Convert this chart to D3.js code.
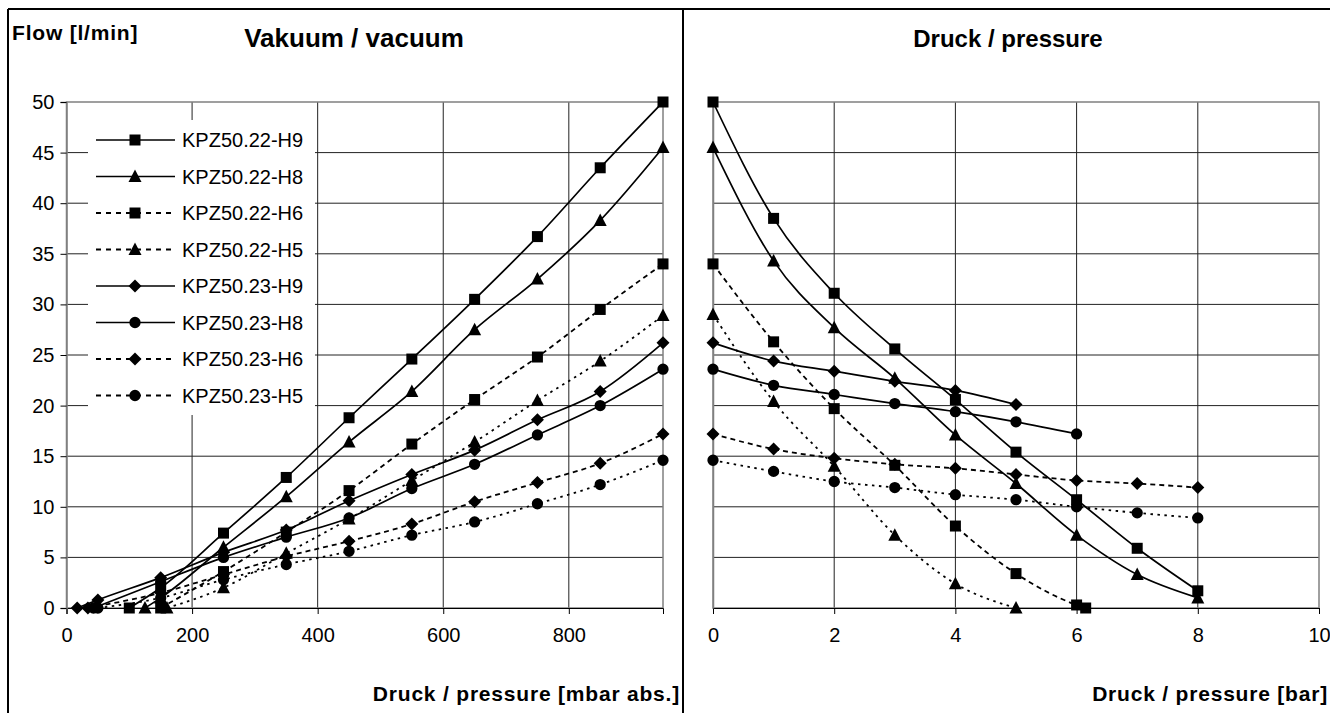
<!DOCTYPE html>
<html>
<head>
<meta charset="utf-8">
<script src="https://cdn.jsdelivr.net/npm/d3@7"></script>
<style>
  body { margin: 0; background: #fff; }
  svg text { font-family: "Liberation Sans", Arial, sans-serif; fill: #000; }
</style>
</head>
<body>
<div id="vis"></div>
<script>
// series names + styling keys
const seriesNames = ["KPZ50.22-H9", "KPZ50.22-H8", "KPZ50.22-H6", "KPZ50.22-H5",
                     "KPZ50.23-H9", "KPZ50.23-H8", "KPZ50.23-H6", "KPZ50.23-H5"];
const seriesMarker = ["square", "triangle", "square", "triangle", "diamond", "circle", "diamond", "circle"];
const seriesDash = ["solid", "solid", "dash", "dot", "solid", "solid", "dash", "dot"];

// vacuum side (mbar abs.)
const vacX_22H9 = [100, 150, 250, 350, 450, 550, 650, 750, 850, 950];
const vacY_22H9 = [0, 2.0, 7.4, 12.9, 18.8, 24.6, 30.5, 36.7, 43.5, 50];
const vacX_22H8 = [125, 150, 250, 350, 450, 550, 650, 750, 850, 950];
const vacY_22H8 = [0, 1.0, 6.0, 11.0, 16.4, 21.4, 27.5, 32.5, 38.3, 45.5];
const vacX_22H6 = [150, 250, 350, 450, 550, 650, 750, 850, 950];
const vacY_22H6 = [0, 3.6, 7.5, 11.6, 16.2, 20.6, 24.8, 29.5, 34.0];
const vacX_22H5 = [160, 250, 350, 450, 550, 650, 750, 850, 950];
const vacY_22H5 = [0, 2.0, 5.4, 8.8, 12.6, 16.4, 20.5, 24.4, 28.9];
const vacX_23H9 = [17, 50, 150, 250, 350, 450, 550, 650, 750, 850, 950];
const vacY_23H9 = [0, 0.8, 3.0, 5.5, 7.7, 10.6, 13.2, 15.6, 18.6, 21.4, 26.2];
const vacX_23H8 = [43, 150, 250, 350, 450, 550, 650, 750, 850, 950];
const vacY_23H8 = [0, 2.6, 5.0, 7.0, 8.9, 11.8, 14.2, 17.1, 20.0, 23.6];
const vacX_23H6 = [34, 150, 250, 350, 450, 550, 650, 750, 850, 950];
const vacY_23H6 = [0, 1.5, 3.3, 5.1, 6.6, 8.3, 10.5, 12.4, 14.3, 17.2];
const vacX_23H5 = [50, 150, 250, 350, 450, 550, 650, 750, 850, 950];
const vacY_23H5 = [0, 1.0, 2.8, 4.3, 5.6, 7.2, 8.5, 10.3, 12.2, 14.6];

// pressure side (bar)
const presX_22H9 = [0, 1, 2, 3, 4, 5, 6, 7, 8];
const presY_22H9 = [50, 38.5, 31.1, 25.6, 20.6, 15.4, 10.7, 5.9, 1.7];
const presX_22H8 = [0, 1, 2, 3, 4, 5, 6, 7, 8];
const presY_22H8 = [45.5, 34.3, 27.7, 22.7, 17.1, 12.3, 7.2, 3.3, 1.0];
const presX_22H6 = [0, 1, 2, 3, 4, 5, 6, 6.15];
const presY_22H6 = [34.0, 26.3, 19.7, 14.1, 8.1, 3.4, 0.3, 0];
const presX_22H5 = [0, 1, 2, 3, 4, 5];
const presY_22H5 = [29.0, 20.4, 14.0, 7.2, 2.4, 0];
const presX_23H9 = [0, 1, 2, 3, 4, 5];
const presY_23H9 = [26.2, 24.4, 23.4, 22.4, 21.5, 20.1];
const presX_23H8 = [0, 1, 2, 3, 4, 5, 6];
const presY_23H8 = [23.6, 22.0, 21.1, 20.2, 19.4, 18.4, 17.2];
const presX_23H6 = [0, 1, 2, 3, 4, 5, 6, 7, 8];
const presY_23H6 = [17.2, 15.7, 14.8, 14.2, 13.8, 13.2, 12.6, 12.3, 11.9];
const presX_23H5 = [0, 1, 2, 3, 4, 5, 6, 7, 8];
const presY_23H5 = [14.6, 13.5, 12.5, 11.9, 11.2, 10.7, 10.0, 9.4, 8.9];

const flowTicks = [0, 5, 10, 15, 20, 25, 30, 35, 40, 45, 50];
const vacTicks = [0, 200, 400, 600, 800];
const presTicks = [0, 2, 4, 6, 8, 10];

const vacSeries = [[vacX_22H9, vacY_22H9], [vacX_22H8, vacY_22H8], [vacX_22H6, vacY_22H6], [vacX_22H5, vacY_22H5],
                   [vacX_23H9, vacY_23H9], [vacX_23H8, vacY_23H8], [vacX_23H6, vacY_23H6], [vacX_23H5, vacY_23H5]];
const presSeries = [[presX_22H9, presY_22H9], [presX_22H8, presY_22H8], [presX_22H6, presY_22H6], [presX_22H5, presY_22H5],
                    [presX_23H9, presY_23H9], [presX_23H8, presY_23H8], [presX_23H6, presY_23H6], [presX_23H5, presY_23H5]];

let width = 1330, height = 713;

let svg = d3.select('#vis')
  .append('svg')
  .attr('width', width)
  .attr('height', height);

// shared y scale
let y = d3.scaleLinear().domain([0, 50]).range([608, 102]);

let xVac = d3.scaleLinear().domain([0, 950]).range([66.5, 663]);
let xPres = d3.scaleLinear().domain([0, 10]).range([713, 1319]);

const dashFor = { solid: null, dash: "5,4", dot: "2.5,4.5" };

// marker path centred at 0,0
function markerPath(kind) {
  if (kind == "square") return "M-5.5,-5.5H5.5V5.5H-5.5Z";
  if (kind == "triangle") return "M0,-7L6.5,5.5H-6.5Z";
  if (kind == "diamond") return "M0,-6.5L6.5,0L0,6.5L-6.5,0Z";
  return d3.symbol().type(d3.symbolCircle).size(100)();
}

function drawPanel(x, xTicks, series, showYLabels) {
  let g = svg.append('g');
  let x0 = x.range()[0], x1 = x.range()[1];

  // grid
  g.selectAll('.hgrid').data(flowTicks.slice(1, -1)).enter().append('line')
    .attr('x1', x0).attr('x2', x1)
    .attr('y1', d => y(d)).attr('y2', d => y(d))
    .attr('stroke', '#222').attr('stroke-width', 1);
  g.selectAll('.vgrid').data(xTicks.filter(d => d > 0 && x(d) < x1 - 1)).enter().append('line')
    .attr('x1', d => x(d)).attr('x2', d => x(d))
    .attr('y1', y(0)).attr('y2', y(50))
    .attr('stroke', '#222').attr('stroke-width', 1);

  // plot area border
  g.append('rect')
    .attr('x', x0).attr('y', y(50))
    .attr('width', x1 - x0).attr('height', y(0) - y(50))
    .attr('fill', 'none').attr('stroke', '#808080').attr('stroke-width', 1.5);

  // x axis ticks + labels
  let xa = d3.axisBottom(x).tickValues(xTicks).tickSize(6).tickPadding(14).tickFormat(d3.format('d'));
  let ax = g.append('g').attr('transform', 'translate(0,' + y(0) + ')').call(xa);
  ax.select('.domain').attr('stroke', '#000');
  ax.selectAll('.tick line').attr('stroke', '#000');
  ax.selectAll('.tick text').attr('font-size', 20).attr('font-family', '"Liberation Sans", Arial, sans-serif').attr('fill', '#000');

  // y axis
  let ya = d3.axisLeft(y).tickValues(flowTicks).tickSize(showYLabels ? 6 : 0).tickPadding(6);
  if (!showYLabels) ya.tickFormat('');
  let ay = g.append('g').attr('transform', 'translate(' + x0 + ',0)').call(ya);
  ay.select('.domain').attr('stroke', '#808080').attr('stroke-width', 1.5);
  ay.selectAll('.tick line').attr('stroke', '#000');
  ay.selectAll('.tick text').attr('font-size', 20).attr('font-family', '"Liberation Sans", Arial, sans-serif').attr('fill', '#000');

  let line = d3.line().x(d => x(d[0])).y(d => y(d[1])).curve(d3.curveMonotoneX);

  series.forEach(function(s, i) {
    let pts = s[0].map((v, k) => [v, s[1][k]]);
    g.append('path')
      .attr('d', line(pts))
      .attr('fill', 'none')
      .attr('stroke', '#000')
      .attr('stroke-width', seriesDash[i] == 'solid' ? 1.7 : 1.8)
      .attr('stroke-dasharray', dashFor[seriesDash[i]]);
    g.selectAll('.m' + i).data(pts).enter().append('path')
      .attr('d', markerPath(seriesMarker[i]))
      .attr('transform', d => 'translate(' + x(d[0]) + ',' + y(d[1]) + ')')
      .attr('fill', '#000');
  });
  return g;
}

drawPanel(xVac, vacTicks, vacSeries, true);
drawPanel(xPres, presTicks, presSeries, false);

// legend (white box over grid)
let legend = svg.append('g');
legend.append('rect').attr('x', 88).attr('y', 120).attr('width', 227).attr('height', 295).attr('fill', '#fff');
seriesNames.forEach(function(name, i) {
  let cy = 140 + i * 36.5;
  legend.append('line')
    .attr('x1', 96).attr('x2', 175).attr('y1', cy).attr('y2', cy)
    .attr('stroke', '#000').attr('stroke-width', seriesDash[i] == 'solid' ? 1.7 : 2)
    .attr('stroke-dasharray', seriesDash[i] == 'solid' ? null : '5,5');
  legend.append('path')
    .attr('d', markerPath(seriesMarker[i]))
    .attr('transform', 'translate(135,' + cy + ')')
    .attr('fill', '#000');
  legend.append('text')
    .attr('x', 182).attr('y', cy + 7)
    .attr('font-size', 20)
    .text(name);
});

// titles & axis labels
svg.append('text').attr('x', 12).attr('y', 40).attr('font-size', 21).attr('font-weight', 'bold')
  .attr('letter-spacing', 0.8).text('Flow [l/min]');
svg.append('text').attr('x', 354).attr('y', 47).attr('text-anchor', 'middle')
  .attr('font-size', 26).attr('font-weight', 'bold').text('Vakuum / vacuum');
svg.append('text').attr('x', 1008).attr('y', 47).attr('text-anchor', 'middle')
  .attr('font-size', 24).attr('font-weight', 'bold').text('Druck / pressure');
svg.append('text').attr('x', 680).attr('y', 701).attr('text-anchor', 'end')
  .attr('font-size', 21).attr('font-weight', 'bold').attr('letter-spacing', 0.8).text('Druck / pressure [mbar abs.]');
svg.append('text').attr('x', 1328).attr('y', 701).attr('text-anchor', 'end')
  .attr('font-size', 21).attr('font-weight', 'bold').attr('letter-spacing', 0.8).text('Druck / pressure [bar]');

// outer frame lines
svg.append('line').attr('x1', 8).attr('x2', width).attr('y1', 9).attr('y2', 9).attr('stroke', '#000').attr('stroke-width', 2);
svg.append('line').attr('x1', 8).attr('x2', 8).attr('y1', 9).attr('y2', height).attr('stroke', '#000').attr('stroke-width', 2);
svg.append('line').attr('x1', 683).attr('x2', 683).attr('y1', 9).attr('y2', height).attr('stroke', '#000').attr('stroke-width', 2);
</script>
</body>
</html>
